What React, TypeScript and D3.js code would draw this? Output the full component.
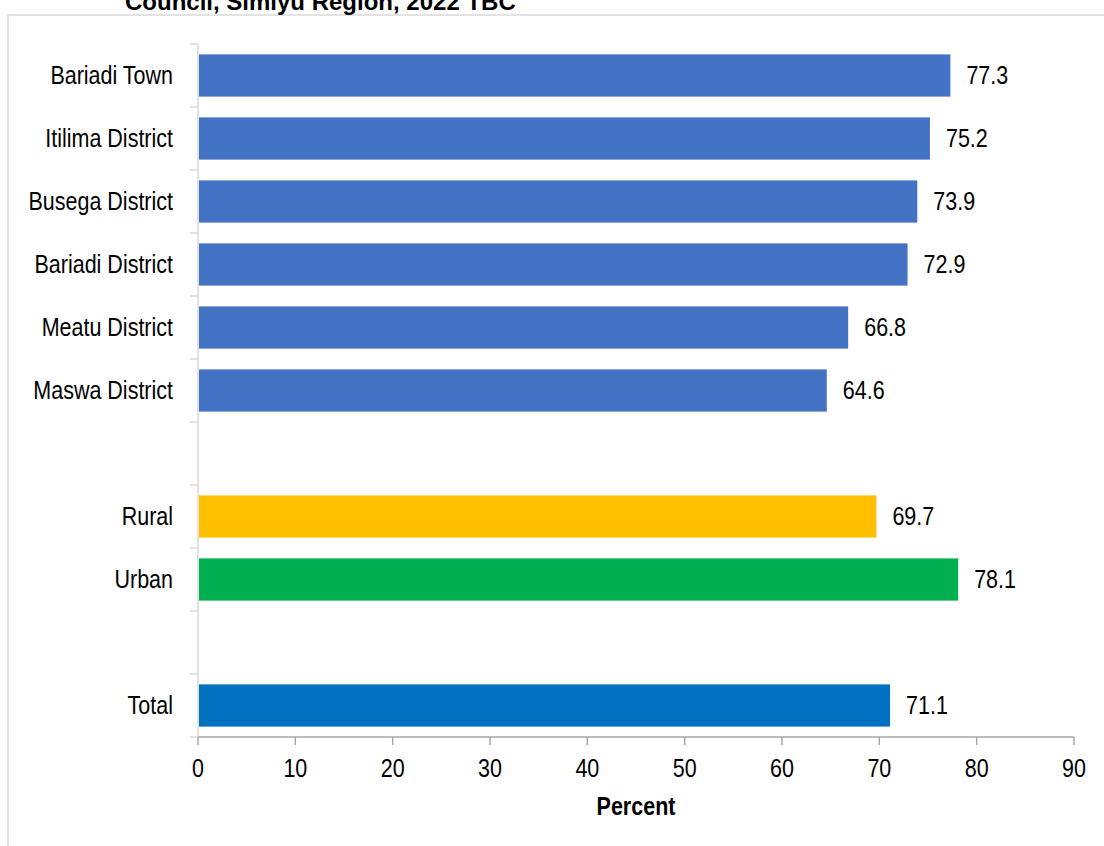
import React from "react";
import * as d3 from "d3";

const categories = [
  "Bariadi Town",
  "Itilima District",
  "Busega District",
  "Bariadi District",
  "Meatu District",
  "Maswa District",
  "",
  "Rural",
  "Urban",
  " ",
  "Total",
];
const values: (number | null)[] = [77.3, 75.2, 73.9, 72.9, 66.8, 64.6, null, 69.7, 78.1, null, 71.1];
const barColors = [
  "#4472C4", "#4472C4", "#4472C4", "#4472C4", "#4472C4", "#4472C4",
  "none", "#FFC000", "#00B050", "none", "#0070C0",
];
const xTicks = [0, 10, 20, 30, 40, 50, 60, 70, 80, 90];
const titleText = "Council, Simiyu Region, 2022 TBC";
const xAxisTitle = "Percent";

const W = 1104;
const H = 846;
const left = 198;
const right = 1074;
const top = 44;
const bottom = 737;
const FONT = "'Liberation Sans', Arial, sans-serif";
const FS = 25;
const SX = 0.86;

function NText(props: { x: number; y: number; anchor?: string; bold?: boolean; children: React.ReactNode }) {
  return (
    <text
      transform={`translate(${props.x},${props.y}) scale(${SX},1)`}
      dy="0.35em"
      textAnchor={props.anchor || "start"}
      fontFamily={FONT}
      fontWeight={props.bold ? "bold" : "normal"}
      fontSize={FS}
      fill="#000"
    >
      {props.children}
    </text>
  );
}

export default function App() {
  const x = d3.scaleLinear().domain([0, 90]).range([left, right]);
  const y = d3.scaleBand().domain(categories).range([top, bottom]).paddingInner(0.33).paddingOuter(0.165);
  const step = y.step();
  const boundaries = d3.range(categories.length + 1).map((i) => top + i * step);

  return (
    <svg width={W} height={H} style={{ position: "absolute", left: 0, top: 0, background: "#fff" }}>
      <rect x={8} y={15} width={W} height={H} fill="#fff" stroke="#d9d9d9" strokeWidth={1.5} />
      <text x={125} y={10} fontFamily={FONT} fontWeight="bold" fontSize={24} fill="#000">
        {titleText}
      </text>
      {/* y axis */}
      <line x1={left} x2={left} y1={top} y2={bottom} stroke="#d9d9d9" strokeWidth={1.5} />
      {boundaries.map((b, i) => (
        <line key={"yt" + i} x1={left - 8} x2={left} y1={b} y2={b} stroke="#d9d9d9" strokeWidth={1.5} />
      ))}
      {/* bars */}
      {categories.map((c, i) => {
        const v = values[i];
        if (v == null) return null;
        const yy = y(c)!;
        const cy = yy + y.bandwidth() / 2;
        return (
          <g key={"b" + i}>
            <rect x={x(0) + 1} y={yy} width={x(v) - x(0) - 1} height={y.bandwidth()} fill={barColors[i]} />
            <NText x={x(v) + 16} y={cy}>{v.toFixed(1)}</NText>
            <NText x={left - 25} y={cy} anchor="end">{c}</NText>
          </g>
        );
      })}
      {/* x axis */}
      <line x1={left} x2={right} y1={bottom} y2={bottom} stroke="#a6a6a6" strokeWidth={1.5} />
      {xTicks.map((t) => (
        <g key={"xt" + t}>
          <line x1={x(t)} x2={x(t)} y1={bottom} y2={bottom + 8} stroke="#a6a6a6" strokeWidth={1.5} />
          <NText x={x(t)} y={768} anchor="middle">{t}</NText>
        </g>
      ))}
      <NText x={(left + right) / 2} y={806} anchor="middle" bold>{xAxisTitle}</NText>
    </svg>
  );
}
